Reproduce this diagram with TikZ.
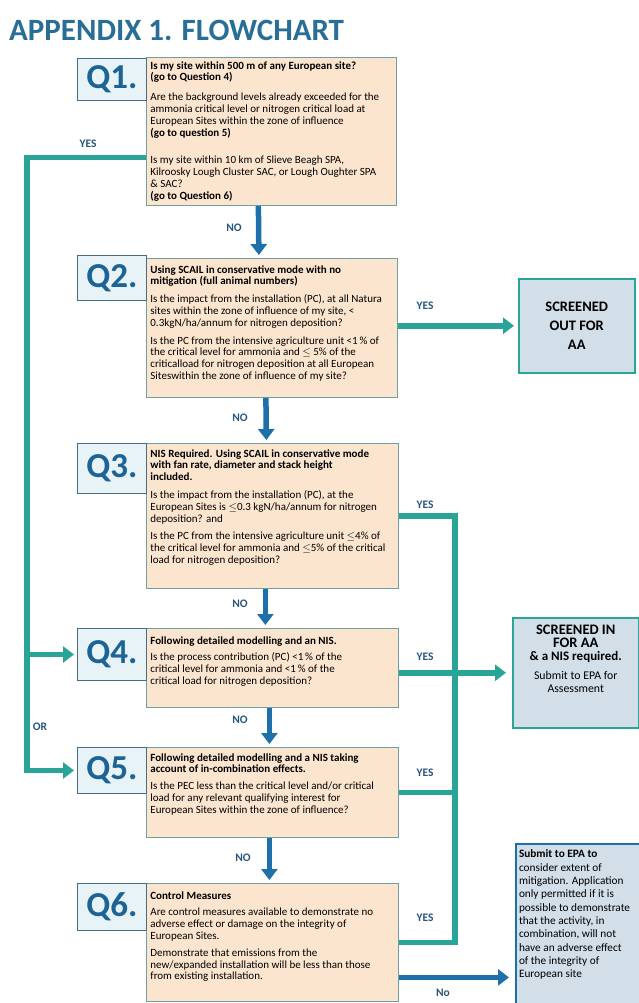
\documentclass[tikz,border=0pt]{standalone}
\usepackage{fontspec}
\setmainfont{Carlito}
\usetikzlibrary{arrows.meta}
\definecolor{flowteal}{RGB}{40,165,150}
\definecolor{flowblue}{RGB}{30,112,170}
\definecolor{qtan}{RGB}{252,229,207}
\definecolor{qedge}{RGB}{110,160,160}
\definecolor{lblfill}{RGB}{232,243,248}
\definecolor{lbledge}{RGB}{70,110,130}
\definecolor{qblue}{RGB}{28,100,150}
\definecolor{titleblue}{RGB}{40,110,150}
\definecolor{outfill}{RGB}{210,222,232}
\definecolor{lbltext}{RGB}{40,85,125}
\begin{document}
\begin{tikzpicture}[x=1pt, y=-1pt,
    titlelbl/.style={font=\fontsize{31}{31}\selectfont\bfseries, text=titleblue, anchor=west, inner sep=0pt},
    qbox/.style={draw=qedge, fill=qtan, line width=0.8pt, anchor=north west, inner sep=4pt,
      font=\fontsize{11}{11.8}\selectfont},
    qlbl/.style={draw=lbledge, fill=lblfill, line width=1pt, anchor=north west, minimum width=69pt,
      inner sep=0pt, font=\fontsize{35}{35}\selectfont\bfseries, text=qblue},
    endbox/.style={draw=flowteal, fill=outfill, line width=1.5pt, anchor=north west, inner sep=3pt},
    yesline/.style={draw=flowteal, line width=5.5pt},
    yesarrow/.style={yesline, -{Triangle[length=11pt,width=16pt]}},
    noarrow/.style={draw=flowblue, line width=5.5pt, -{Triangle[length=11pt,width=16pt]}},
    flowlbl/.style={font=\fontsize{11.5}{11.5}\selectfont\bfseries, text=lbltext, inner sep=0pt}
  ]
  \useasboundingbox (0,0) rectangle (638,1003);

  \node[titlelbl] (title) at (9,30) {APPENDIX 1. FLOWCHART};

  % question boxes
  \node[qbox] (q1) at (146,57) {\parbox[c][140pt][t]{242pt}{\raggedright
    \textbf{Is my site within 500 m of any European site?\\(go to Question 4)}\par\vspace{8pt}
    Are the background levels already exceeded for the\\ammonia critical level or nitrogen critical load at\\European Sites within the zone of influence\\\textbf{(go to question 5)}\par\vspace{16pt}
    Is my site within 10 km of Slieve Beagh SPA,\\Kilroosky Lough Cluster SAC, or Lough Oughter SPA\\\& SAC?\\\textbf{(go to Question 6)}}};
  \node[qbox] (q2) at (146,258) {\parbox[c][131pt][t]{243pt}{\raggedright\vspace*{3pt}
    \textbf{Using SCAIL in conservative mode with no\\mitigation (full animal numbers)}\par\vspace{6pt}
    Is the impact from the installation (PC), at all Natura\\sites within the zone of influence of my site, <\\0.3kgN/ha/annum for nitrogen deposition?\par\vspace{6pt}
    Is the PC from the intensive agriculture unit <1\,\% of\\the critical level for ammonia and $\le$ 5\% of the\\criticalload for nitrogen deposition at all European\\Siteswithin the zone of influence of my site?}};
  \node[qbox] (q3) at (146,443) {\parbox[c][137pt][t]{244pt}{\raggedright\vspace*{2pt}
    \textbf{NIS Required. Using SCAIL in conservative mode\\with fan rate, diameter and stack height\\included.}\par\vspace{6pt}
    Is the impact from the installation (PC), at the\\European Sites is $\le$0.3 kgN/ha/annum for nitrogen\\deposition? and\par\vspace{6pt}
    Is the PC from the intensive agriculture unit $\le$4\% of\\the critical level for ammonia and $\le$5\% of the critical\\load for nitrogen deposition?}};
  \node[qbox] (q4) at (146,628) {\parbox[c][71pt][t]{244pt}{\raggedright\vspace*{4pt}
    \textbf{Following detailed modelling and an NIS.}\par\vspace{5pt}
    Is the process contribution (PC) <1\,\% of the\\critical level for ammonia and <1\,\% of the\\critical load for nitrogen deposition?}};
  \node[qbox] (q5) at (146,747) {\parbox[c][82pt][t]{244pt}{\raggedright\vspace*{2pt}
    \textbf{Following detailed modelling and a NIS taking\\account of in-combination effects.}\par\vspace{5pt}
    Is the PEC less than the critical level and/or critical\\load for any relevant qualifying interest for\\European Sites within the zone of influence?}};
  \node[qbox] (q6) at (146,883) {\parbox[c][110pt][t]{244pt}{\raggedright\vspace*{4pt}
    \textbf{Control Measures}\par\vspace{5pt}
    Are control measures available to demonstrate no\\adverse effect or damage on the integrity of\\European Sites.\par\vspace{5pt}
    Demonstrate that emissions from the\\new/expanded installation will be less than those\\from existing installation.}};

  % question labels
  \foreach \i/\y/\h in {1/58/42, 2/255/45, 3/443/50, 4/628/52, 5/747/46, 6/883/47}
    \node[qlbl, minimum height=\h pt] (l\i) at (77,\y) {Q\i.};

  % outcome boxes
  \node[endbox, minimum width=116pt, minimum height=94pt, align=center,
    font=\fontsize{14.5}{19}\selectfont\bfseries] (r1) at (518,278) {SCREENED\\OUT FOR\\AA};
  \node[endbox] (r2) at (512,617) {\parbox[c][104pt][t]{120pt}{\centering\vspace*{4pt}
    {\fontsize{14.5}{13}\selectfont\bfseries SCREENED IN\\FOR AA\\\fontsize{13}{13}\selectfont\&~a NIS required.\par}\vspace{6pt}
    {\fontsize{11.8}{13}\selectfont Submit to EPA for\\Assessment\par}}};
  \node[endbox, draw=flowblue, line width=2pt] (r3) at (515,843) {\parbox[c][158pt][t]{118pt}{\raggedright
    \fontsize{11.3}{13.3}\selectfont\vspace*{3pt}
    \textbf{Submit to EPA to}\\consider extent of\\mitigation. Application\\only permitted if it is\\possible to demonstrate\\that the activity, in\\combination, will not\\have an adverse effect\\of the integrity of\\European site}};

  % NO chain down the middle
  \foreach \a/\b/\dx in {1/2/-13, 2/3/-6, 3/4/-7, 4/5/-3, 5/6/-3}
    \draw[noarrow, shorten >=3pt] ([xshift=\dx pt]q\a.south) -- ([xshift=\dx pt]q\b.north);
  \foreach \n/\x/\y in {1/234/228, 2/240/418, 3/240/604, 4/240/720, 5/243/858}
    \node[flowlbl] (no\n) at (\x,\y) {NO};

  % YES to the right
  \coordinate (bx) at (455,0);
  \draw[yesarrow, shorten >=4pt] (q2.east |- r1.west) -- (r1.west);
  \draw[yesline] (q3.east) -- (q3.east -| bx) -- (q6.east -| bx) -- (q6.east);
  \draw[yesline] (q5.east) -- (q5.east -| bx);
  \draw[yesarrow, shorten >=6pt] (q4.east |- r2.west) -- (r2.west);
  \coordinate (q6no) at ([yshift=-35pt]q6.east);
  \draw[noarrow, shorten >=6pt] (q6no) -- (q6no -| r3.west);

  % YES from Q1 round the left
  \coordinate (lx) at (27,0);
  \coordinate (q1yes) at ([yshift=-26pt]q1.west);
  \draw[yesarrow, shorten >=3pt] (q1yes) -- (q1yes -| lx) -- (l5.west -| lx) -- (l5.west);
  \draw[yesarrow, shorten >=3pt] (l4.west -| lx) -- (l4.west);

  \node[flowlbl] (yes1) at (88,144) {YES};
  \foreach \n/\y in {2/306, 3/505, 4/657, 5/773, 6/918}
    \node[flowlbl] (yes\n) at (425,\y) {YES};
  \node[flowlbl] (orlbl) at (40,727) {OR};
  \node[flowlbl] (nolbl) at (443,993) {No};
\end{tikzpicture}
\end{document}
